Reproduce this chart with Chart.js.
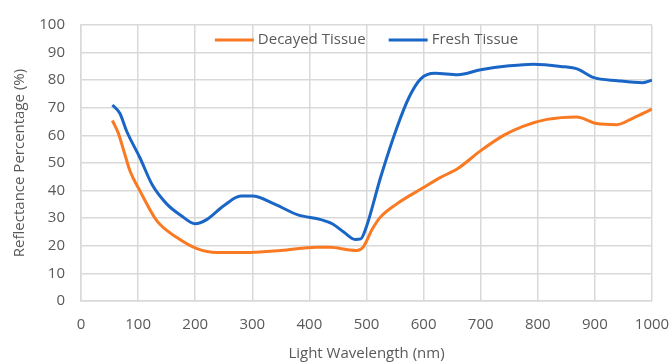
<!DOCTYPE html>
<html>
<head>
<meta charset="utf-8">
<script src="https://cdn.jsdelivr.net/npm/chart.js@4/dist/chart.umd.min.js"></script>
<style>
  html, body { margin: 0; padding: 0; background: #fff; }
  #wrap { width: 671px; height: 363px; }
</style>
</head>
<body>
<div id="wrap"><canvas id="c" width="671" height="363"></canvas></div>
<script>
// Values: [wavelength nm, reflectance %]
const freshTissue = [
  [55, 71], [68, 68], [80, 61.5], [103, 52], [125, 42], [150, 35.2], [175, 31],
  [200, 28], [220, 29.5], [250, 34.5], [280, 38], [300, 38], [340, 35],
  [380, 31.2], [420, 29.5], [440, 28], [460, 25], [480, 22.3], [490, 22.5], [500, 27],
  [525, 45], [553, 62.7], [575, 74], [595, 80.5], [620, 82.5], [660, 82],
  [700, 83.8], [750, 85.2], [792, 85.8], [840, 85], [870, 84], [897, 81],
  [940, 79.8], [984, 79.1], [1000, 80]
];
const decayedTissue = [
  [55, 65.4], [65, 61], [77, 53], [86, 47], [103, 40], [133, 29], [168, 23],
  [203, 19], [238, 17.6], [296, 17.6], [350, 18.3], [413, 19.5], [436, 19.5],
  [470, 18.5], [483, 18.3], [494, 19.5], [510, 26], [524, 30.3], [553, 35.2],
  [599, 41], [629, 44.7], [660, 48], [699, 54.3], [740, 60], [774, 63.3],
  [816, 65.8], [868, 66.7], [903, 64.3], [938, 63.9], [967, 66.3], [1000, 69.5]
];
const seriesNames = ['Decayed Tissue', 'Fresh Tissue'];
const seriesColors = ['#f97a22', '#1a66c6'];
const xRange = [0, 1000, 100];   // min, max, step
const yRange = [0, 100, 10];

const toPoints = (arr) => arr.map(p => ({ x: p[0], y: p[1] }));
const gridColor = '#d9d9d9';
const textColor = '#595959';
const fontFamily = '"Open Sans", "Noto Sans", sans-serif';

// legend drawn inside the top of the plot area, like the Excel original
const innerLegend = {
  id: 'innerLegend',
  afterDraw(chart) {
    const { ctx, chartArea } = chart;
    const lineW = 39, gap = 4, itemGap = 23;
    ctx.save();
    ctx.font = '15px ' + fontFamily;
    const items = chart.data.datasets.map(ds => ({
      label: ds.label, color: ds.borderColor,
      w: lineW + gap + ctx.measureText(ds.label).width
    }));
    const total = items.reduce((s, it) => s + it.w, 0) + itemGap * (items.length - 1);
    let x = (chartArea.left + chartArea.right) / 2 - total / 2;
    const y = chartArea.top + 15;
    ctx.textBaseline = 'middle';
    items.forEach(it => {
      ctx.strokeStyle = it.color;
      ctx.lineWidth = 3;
      ctx.beginPath();
      ctx.moveTo(x, y);
      ctx.lineTo(x + lineW, y);
      ctx.stroke();
      ctx.fillStyle = textColor;
      ctx.fillText(it.label, x + lineW + gap, y);
      x += it.w + itemGap;
    });
    ctx.restore();
  }
};

new Chart(document.getElementById('c'), {
  type: 'line',
  data: {
    datasets: [decayedTissue, freshTissue].map((d, i) => ({
      label: seriesNames[i],
      data: toPoints(d),
      borderColor: seriesColors[i],
      backgroundColor: seriesColors[i],
      borderWidth: 3,
      pointRadius: 0,
      tension: 0.4,
      cubicInterpolationMode: 'monotone',
      fill: false
    }))
  },
  plugins: [innerLegend],
  options: {
    responsive: false,
    animation: false,
    layout: { padding: { top: 18, right: 0, left: 8, bottom: 0 } },
    plugins: {
      tooltip: { enabled: false },
      legend: { display: false }
    },
    scales: {
      x: {
        type: 'linear',
        min: xRange[0],
        max: xRange[1],
        afterFit: (s) => { s.paddingRight = 19; s.height = 62; },
        grid: { color: gridColor, lineWidth: 1.5, drawTicks: false },
        border: { color: gridColor, width: 1.5 },
        ticks: {
          stepSize: xRange[2],
          color: textColor,
          padding: 15,
          font: { family: fontFamily, size: 15 },
          callback: (v) => String(v)
        },
        title: {
          display: true,
          text: 'Light Wavelength (nm)',
          color: textColor,
          padding: { top: 0, bottom: 0 },
          font: { family: fontFamily, size: 15 }
        }
      },
      y: {
        min: yRange[0],
        max: yRange[1],
        afterFit: (s) => { s.width = 73; },
        grid: { color: gridColor, lineWidth: 1.5, drawTicks: false },
        border: { color: gridColor, width: 1.5 },
        ticks: {
          stepSize: yRange[2],
          color: textColor,
          padding: 16,
          font: { family: fontFamily, size: 15 },
          callback: (v) => String(v)
        },
        title: {
          display: true,
          text: 'Reflectance Percentage (%)',
          color: textColor,
          padding: { top: 3, bottom: 9 },
          font: { family: fontFamily, size: 15 }
        }
      }
    }
  }
});
</script>
</body>
</html>
